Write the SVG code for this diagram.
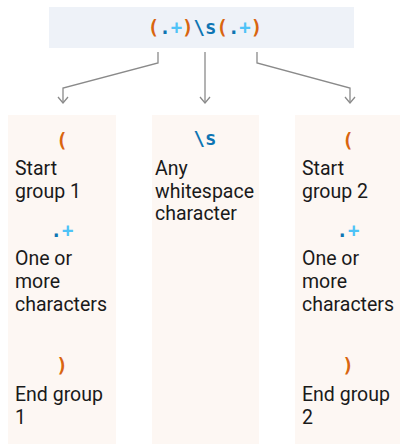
<svg xmlns="http://www.w3.org/2000/svg" width="400" height="445" viewBox="0 0 400 445">
<defs>
<style>
.box{fill:#fdf7f3}
.hdr{fill:#eef2f8}
.lbl{font-family:Roboto,"Noto Sans",sans-serif;font-size:19.5px;fill:#1a1a1a}
.code{font-family:"DejaVu Sans Mono","Liberation Mono",monospace;font-size:19px;font-weight:bold}
.or{fill:#d9650f}
.db{fill:#0e75b3}
.lb{fill:#4fc3f7}
.con{fill:none;stroke:#8a8a8a;stroke-width:1.3}
</style>
<marker id="arr" viewBox="0 0 8 12" refX="7" refY="6" markerWidth="8" markerHeight="12" markerUnits="userSpaceOnUse" orient="auto">
<path d="M1,1 L7,6 L1,11" fill="none" stroke="#8a8a8a" stroke-width="1.3"/>
</marker>
</defs>
<rect width="400" height="445" fill="#ffffff"/>
<g id="regex">
<rect class="hdr" x="49" y="7" width="305" height="41"/>
<text class="code" x="205" y="34" text-anchor="middle"><tspan class="or">(</tspan><tspan class="db">.</tspan><tspan class="lb">+</tspan><tspan class="or">)</tspan><tspan class="db">\s</tspan><tspan class="or">(</tspan><tspan class="db">.</tspan><tspan class="lb">+</tspan><tspan class="or">)</tspan></text>
</g>
<g id="connectors">
<path class="con" d="M158,52 V63 L63,88 V103" marker-end="url(#arr)"/>
<path class="con" d="M205,52 V103" marker-end="url(#arr)"/>
<path class="con" d="M257,52 V63 L350,88 V103" marker-end="url(#arr)"/>
</g>
<g id="group1">
<rect class="box" x="8" y="115" width="108" height="329"/>
<text class="code or" x="62" y="147" text-anchor="middle">(</text>
<text class="lbl" x="15" y="175">Start</text>
<text class="lbl" x="15" y="198">group 1</text>
<text class="code" x="62" y="237" text-anchor="middle"><tspan class="db">.</tspan><tspan class="lb">+</tspan></text>
<text class="lbl" x="15" y="265">One or</text>
<text class="lbl" x="15" y="288">more</text>
<text class="lbl" x="15" y="311">characters</text>
<text class="code or" x="62" y="372" text-anchor="middle">)</text>
<text class="lbl" x="15" y="401">End group</text>
<text class="lbl" x="15" y="424">1</text>
</g>
<g id="whitespace">
<rect class="box" x="152" y="115" width="107" height="329"/>
<text class="code db" x="205" y="145" text-anchor="middle">\s</text>
<text class="lbl" x="155" y="175">Any</text>
<text class="lbl" x="155" y="198">whitespace</text>
<text class="lbl" x="155" y="220">character</text>
</g>
<g id="group2">
<rect class="box" x="295" y="115" width="105" height="329"/>
<text class="code or" x="348" y="147" text-anchor="middle">(</text>
<text class="lbl" x="302" y="175">Start</text>
<text class="lbl" x="302" y="198">group 2</text>
<text class="code" x="348" y="237" text-anchor="middle"><tspan class="db">.</tspan><tspan class="lb">+</tspan></text>
<text class="lbl" x="302" y="265">One or</text>
<text class="lbl" x="302" y="288">more</text>
<text class="lbl" x="302" y="311">characters</text>
<text class="code or" x="348" y="372" text-anchor="middle">)</text>
<text class="lbl" x="302" y="401">End group</text>
<text class="lbl" x="302" y="424">2</text>
</g>
</svg>
